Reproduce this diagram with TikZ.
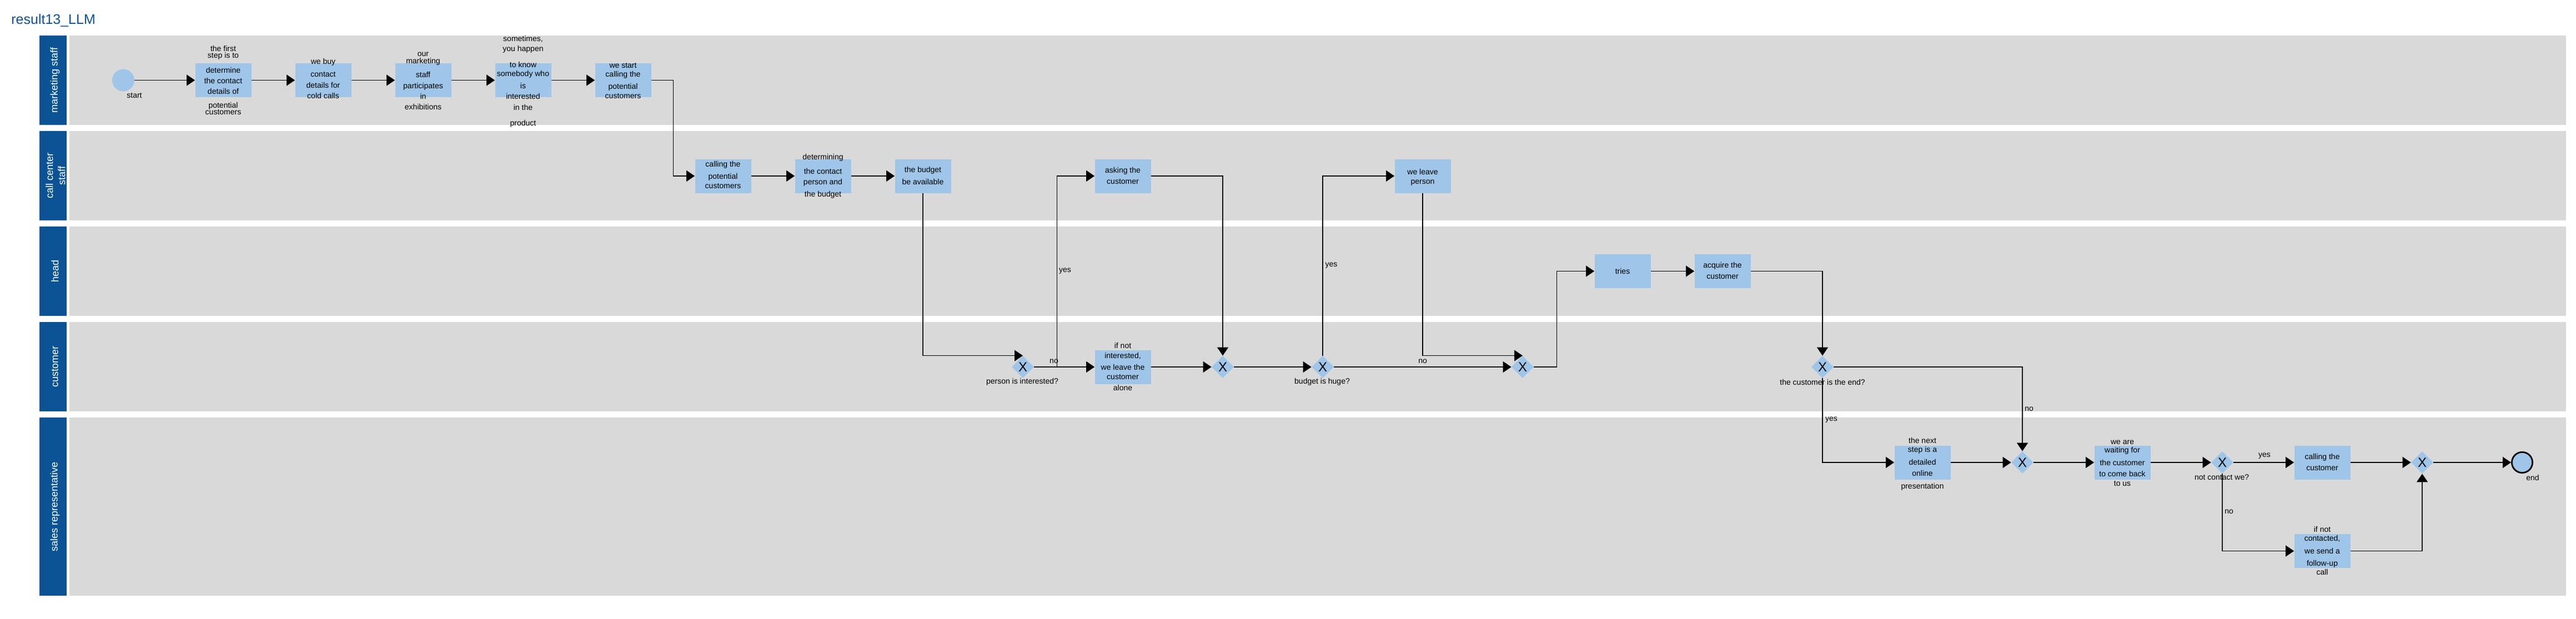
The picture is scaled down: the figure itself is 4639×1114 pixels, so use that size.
\documentclass[tikz,border=0pt]{standalone}
\usepackage{fontspec}
\setmainfont{Liberation Sans}
\usetikzlibrary{arrows.meta,shapes.geometric,calc}
\definecolor{lanebg}{HTML}{D9D9D9}
\definecolor{lanehd}{HTML}{0B5394}
\definecolor{taskbg}{HTML}{9FC5E8}
\begin{document}
\begin{tikzpicture}[x=0.5pt,y=-0.5pt,
  lanehead/.style={fill=lanehd,draw=none},
  lanefill/.style={fill=lanebg,draw=none},
  lanetext/.style={text=white,font=\fontsize{9}{11}\selectfont,rotate=90,align=center,inner sep=0},
  task/.style={fill=taskbg,draw=none,minimum width=50.5pt,minimum height=30.5pt,inner sep=0},
  ttext/.style={font=\fontsize{7}{7}\selectfont,align=center,inner sep=0},
  gw/.style={diamond,shape aspect=1,fill=taskbg,draw=none,minimum width=20pt,minimum height=20pt,inner sep=0,font=\fontsize{12}{12}\selectfont},
  lbl/.style={font=\fontsize{7}{8}\selectfont,inner sep=0},
  flow/.style={line width=0.7pt,-{Triangle[length=7.5pt,width=10pt]}},
  startev/.style={circle,fill=taskbg,draw=none,minimum size=20pt,inner sep=0},
  endev/.style={circle,fill=taskbg,draw=black,line width=1.4pt,minimum size=18.6pt,inner sep=0},
]
\useasboundingbox (0,0) rectangle (4639,1114);

% title
\node[anchor=base west,font=\fontsize{12.5}{14}\selectfont,text=lanehd,inner sep=0] (title) at (20,43) {result13\_LLM};

% lanes
\path[lanehead] (71,64) rectangle (120,225);
\path[lanefill] (125,64) rectangle (4621,225);
\path[lanehead] (71,236) rectangle (120,397);
\path[lanefill] (125,236) rectangle (4621,397);
\path[lanehead] (71,408) rectangle (120,569);
\path[lanefill] (125,408) rectangle (4621,569);
\path[lanehead] (71,580) rectangle (120,741);
\path[lanefill] (125,580) rectangle (4621,741);
\path[lanehead] (71,752) rectangle (120,1073);
\path[lanefill] (125,752) rectangle (4621,1073);

\node[lanetext] (lab1) at (99,144.5) {marketing staff};
\node[lanetext] (lab2) at (100,316.5) {call center\\staff};
\node[lanetext] (lab3) at (99,488.5) {head};
\node[lanetext] (lab4) at (99,660.5) {customer};
\node[lanetext] (lab5) at (99,912.5) {sales representative};

% marketing staff
\node[startev] (start) at (222,144.5) {};
\node[lbl] (startl) at (242,172) {start};
\node[task] (t1) at (402,144.5) {};
\node[ttext] (t1x) at (402,146.2) {the first\strut\\[-2pt]step is to\strut\\[5pt]determine\strut\\[1.5pt]the contact\strut\\[1.5pt]details of\strut\\[4pt]potential\strut\\[-1pt]customers\strut};
\node[task] (t2) at (582,144.5) {};
\node[ttext] (t2x) at (582,143.7) {we buy\strut\\[4.5pt]contact\strut\\[1.5pt]details for\strut\\[1.5pt]cold calls\strut};
\node[task] (t3) at (762,144.5) {};
\node[ttext] (t3x) at (762,146.7) {our\strut\\[-1.5pt]marketing\strut\\[4.5pt]staff\strut\\[1.5pt]participates\strut\\[1.5pt]in\strut\\[1.5pt]exhibitions\strut};
\node[task] (t4) at (942,144.5) {};
\node[ttext] (t4x) at (942,147.7) {sometimes,\strut\\[0.5pt]you happen\strut\\[6.5pt]to know\strut\\[-0.5pt]somebody who\strut\\[3pt]is\strut\\[1.5pt]interested\strut\\[1.5pt]in the\strut\\[6pt]product\strut};
\node[task] (t5) at (1122,144.5) {};
\node[ttext] (t5x) at (1122,147.2) {we start\strut\\[-0.5pt]calling the\strut\\[3pt]potential\strut\\[1.5pt]customers\strut};

% call center staff
\node[task] (t6) at (1302,317) {};
\node[ttext] (t6x) at (1302,317) {calling the\strut\\[3pt]potential\strut\\[1.5pt]customers\strut};
\node[task] (t7) at (1482,317) {};
\node[ttext] (t7x) at (1482,318.2) {determining\strut\\[4.5pt]the contact\strut\\[1.5pt]person and\strut\\[3pt]the budget\strut};
\node[task] (t8) at (1662,317) {};
\node[ttext] (t8x) at (1662,318.2) {the budget\strut\\[3pt]be available\strut};
\node[task] (t9) at (2022,317) {};
\node[ttext] (t9x) at (2022,318.2) {asking the\strut\\[3pt]customer\strut};
\node[task] (t10) at (2562,317) {};
\node[ttext] (t10x) at (2562,319.7) {we leave\strut\\[1.5pt]person\strut};

% head
\node[task] (tries) at (2922,488.5) {};
\node[ttext] (triesx) at (2922,490.2) {tries\strut};
\node[task] (acq) at (3102,488.5) {};
\node[ttext] (acqx) at (3102,489.2) {acquire the\strut\\[3pt]customer\strut};

% customer
\node[gw] (g1) at (1842,661) {X};
\node[lbl] (g1l) at (1841,688) {person is interested?};
\node[task] (t11) at (2022,661) {};
\node[ttext] (t11x) at (2022,662.7) {if not\strut\\[0.5pt]interested,\strut\\[2.5pt]we leave the\strut\\[1.5pt]customer\strut\\[2pt]alone\strut};
\node[gw] (g2) at (2202,661) {X};
\node[gw] (g3) at (2382,661) {X};
\node[lbl] (g3l) at (2381,688) {budget is huge?};
\node[gw] (g4) at (2742,661) {X};
\node[gw] (g5) at (3282,661) {X};
\node[lbl] (g5l) at (3282,688) {the customer is the end?};

% sales representative
\node[task] (ns) at (3462,833) {};
\node[ttext] (nsx) at (3462,836.7) {the next\strut\\[0pt]step is a\strut\\[3pt]detailed\strut\\[2pt]online\strut\\[3.5pt]presentation\strut};
\node[gw] (g6) at (3642,833) {X};
\node[task] (wait) at (3822,833) {};
\node[ttext] (waitx) at (3822,835.2) {we are\strut\\[-0.5pt]waiting for\strut\\[3pt]the customer\strut\\[2pt]to come back\strut\\[1.5pt]to us\strut};
\node[gw] (g7) at (4002,833) {X};
\node[lbl] (g7l) at (4001,860) {not contact we?};
\node[task] (call) at (4182,833) {};
\node[ttext] (callx) at (4182,834.2) {calling the\strut\\[3pt]customer\strut};
\node[task] (fu) at (4182,992.5) {};
\node[ttext] (fux) at (4182,994.2) {if not\strut\\[0pt]contacted,\strut\\[3pt]we send a\strut\\[3pt]follow-up\strut\\[0pt]call\strut};
\node[gw] (g8) at (4362,833) {X};
\node[endev] (end) at (4542,833) {};
\node[lbl] (endl) at (4561,860) {end};

% flow labels
\node[lbl] (no1) at (1898,651) {no};
\node[lbl] (yes1) at (1918,488) {yes};
\node[lbl] (yes2) at (2397.5,478) {yes};
\node[lbl] (no2) at (2562,651) {no};
\node[lbl] (yes3) at (3298,756) {yes};
\node[lbl] (no3) at (3654,737) {no};
\node[lbl] (yes4) at (4078,821) {yes};
\node[lbl] (no4) at (4014,922) {no};

% connectors
\draw[flow] (start.east) -- (t1.west);
\draw[flow] (t1.east) -- (t2.west);
\draw[flow] (t2.east) -- (t3.west);
\draw[flow] (t3.east) -- (t4.west);
\draw[flow] (t4.east) -- (t5.west);
\draw[flow] (t5.east) -- ++(39.5,0) |- (t6.west);
\draw[flow] (t6.east) -- (t7.west);
\draw[flow] (t7.east) -- (t8.west);
\draw[flow] (t8.south) |- (g1.north);
\draw[flow] (g1.east) -- (t11.west);
\draw[flow] (g1.east) -- ++(41,0) |- (t9.west);
\draw[flow] (t9.east) -| (g2.north);
\draw[flow] (t11.east) -- (g2.west);
\draw[flow] (g2.east) -- (g3.west);
\draw[flow] (g3.north) |- (t10.west);
\draw[flow] (g3.east) -- (g4.west);
\draw[flow] (t10.south) |- (g4.north);
\draw[flow] (g4.east) -- ++(41,0) |- (tries.west);
\draw[flow] (tries.east) -- (acq.west);
\draw[flow] (acq.east) -| (g5.north);
\draw[flow] (g5.south) |- (ns.west);
\draw[flow] (g5.east) -| (g6.north);
\draw[flow] (ns.east) -- (g6.west);
\draw[flow] (g6.east) -- (wait.west);
\draw[flow] (wait.east) -- (g7.west);
\draw[flow] (g7.east) -- (call.west);
\draw[flow] (g7.south) |- (fu.west);
\draw[flow] (call.east) -- (g8.west);
\draw[flow] (fu.east) -| (g8.south);
\draw[flow] (g8.east) -- (end.west);
\end{tikzpicture}
\end{document}
